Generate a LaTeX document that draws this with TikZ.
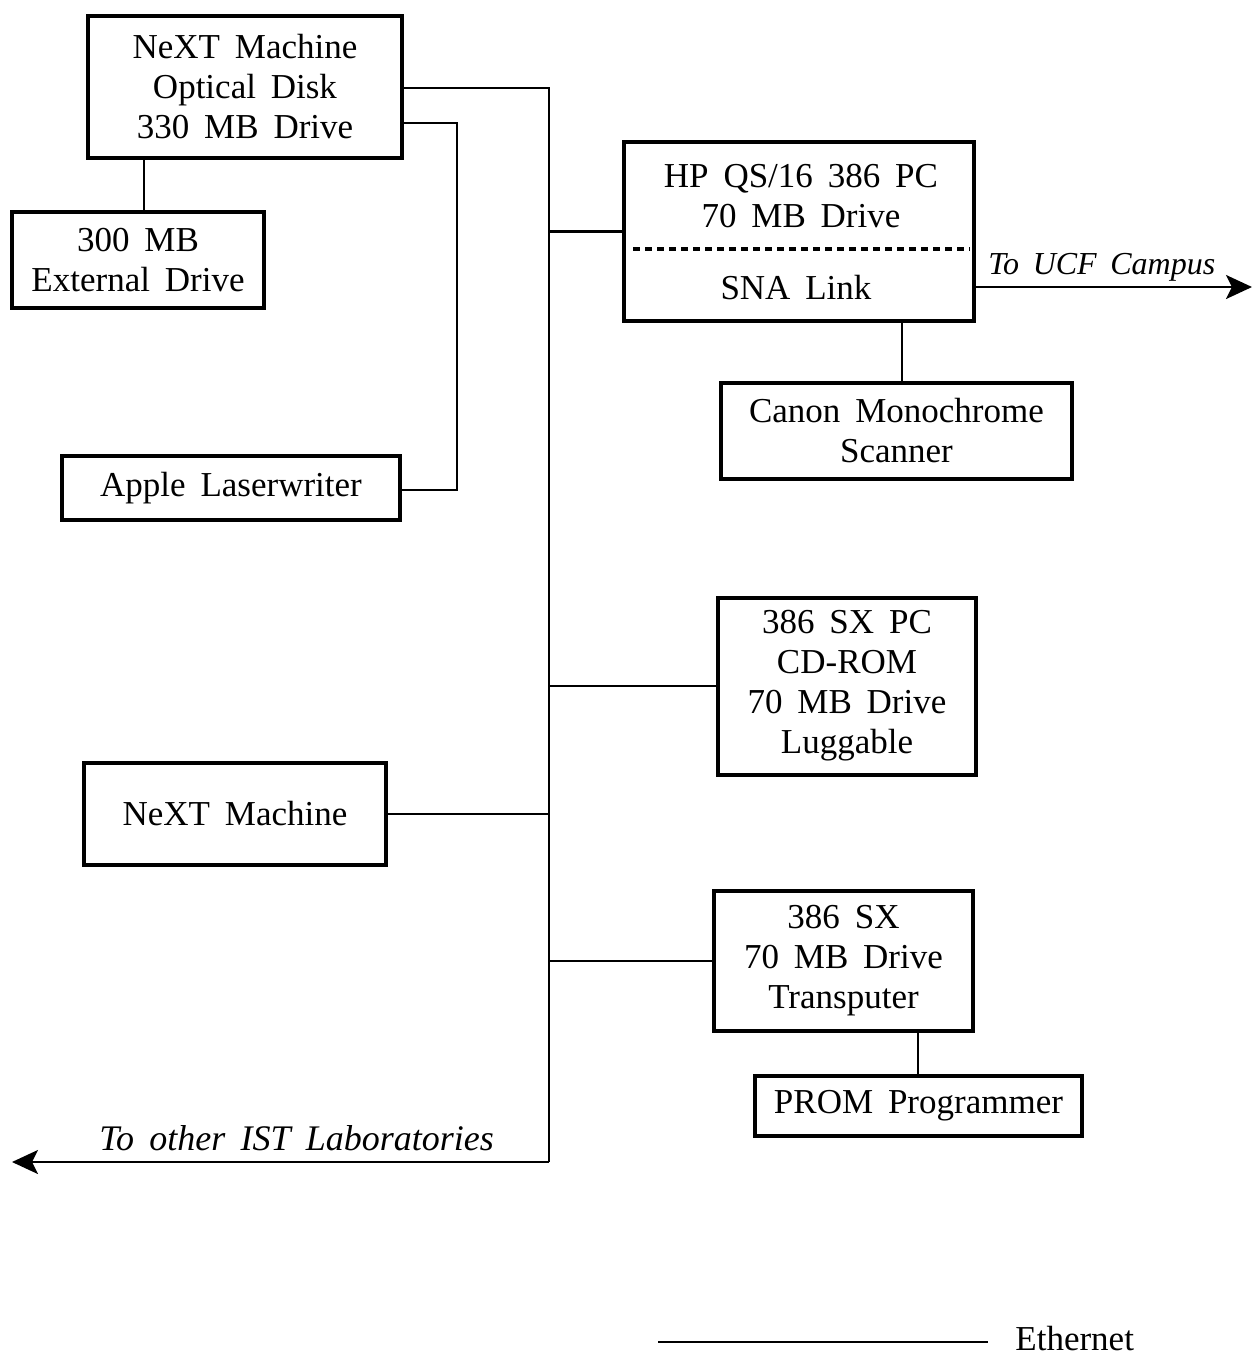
\documentclass[tikz,border=0pt]{standalone}
\usepackage{fontspec}
\setmainfont{Liberation Serif}[WordSpace=1.7]
\usetikzlibrary{arrows.meta}

\begin{document}
\begin{tikzpicture}[x=0.5pt,y=-0.5pt]
\useasboundingbox (0,0) rectangle (1260,1357);
\begin{scope}[every node/.style={rectangle,draw,line width=2pt,align=center,inner sep=0pt,
                                 font=\fontsize{17.5}{20}\selectfont}]
    \node[minimum width=157pt,minimum height=71pt] (disk) at (245,87) {NeXT Machine\\Optical Disk\\330 MB Drive};
    \node[minimum width=126pt,minimum height=48pt] (ext) at (138,260) {300 MB\\External Drive};
    \node[minimum width=175pt,minimum height=89.5pt] (hp) at (799,231.5) {};
    \node[draw=none] (hpname) at (801,196) {HP QS/16 386 PC\\70 MB Drive};
    \node[draw=none] (sna) at (796,288) {SNA Link};
    \node[minimum width=175.5pt,minimum height=48pt] (canon) at (896.5,431) {Canon Monochrome\\Scanner};
    \node[minimum width=169pt,minimum height=32pt] (apple) at (231,488) {Apple Laserwriter};
    \node[minimum width=129pt,minimum height=88.5pt] (sxpc) at (847,686) {386 SX PC\\CD-ROM\\70 MB Drive\\Luggable};
    \node[minimum width=151pt,minimum height=51pt] (next) at (235,814) {NeXT Machine};
    \node[minimum width=129.5pt,minimum height=70pt] (sx) at (843.5,961) {386 SX\\70 MB Drive\\Transputer};
    \node[minimum width=163.5pt,minimum height=30pt] (prom) at (918.5,1106) {PROM Programmer};
\end{scope}
% bus and taps
\coordinate (bustop) at (549,88);
\coordinate (busbot) at (549,1162);
\coordinate (labs) at (12,1162);
\coordinate (campus) at (1252,287);
\coordinate (lwup) at (457,123);
\coordinate (lwdown) at (457,490);
\coordinate (extx) at (144,0);
\coordinate (canonx) at (902,0);
\coordinate (promx) at (918,0);
\begin{scope}[>={Stealth[length=13pt,width=12pt,inset=3pt]},
              every path/.style={line width=1.3pt},
              every node/.style={inner sep=0pt,font=\fontsize{18}{20}\selectfont\itshape}]
    \draw (disk.east |- bustop) -- (bustop) -- (busbot);
    \draw [->] (busbot) -- (labs) node[pos=0.1,anchor=base east,yshift=6pt] {To other IST Laboratories};
    \draw (disk.east |- lwup) -- (lwup) -- (lwdown) -- (apple.east |- lwdown);
    \draw (disk.south -| extx) -- (ext.north -| extx);
    \draw (hp.west) -- (hp.west -| bustop);
    \draw (sxpc.west) -- (sxpc.west -| bustop);
    \draw (next.east) -- (next.east -| bustop);
    \draw (sx.west) -- (sx.west -| bustop);
    \draw [->] (hp.east |- campus) -- (campus) node[pos=0,anchor=base west,xshift=5.5pt,yshift=6.5pt,
                                                   font=\fontsize{16}{20}\selectfont\itshape] {To UCF Campus};
    \draw (hp.south -| canonx) -- (canon.north -| canonx);
    \draw (sx.south -| promx) -- (prom.north -| promx);
    \draw [line width=2pt,dash pattern=on 3.5pt off 2.5pt] (633,249) -- (970,249);
\end{scope}
% legend
\coordinate (legl) at (658,1342);
\coordinate (legr) at (988,1342);
\draw [line width=1.3pt] (legl) -- (legr);
\node [anchor=base west,inner sep=0pt,font=\fontsize{17.5}{20}\selectfont] (eth) at (1015,1350) {Ethernet};
\end{tikzpicture}
\end{document}
